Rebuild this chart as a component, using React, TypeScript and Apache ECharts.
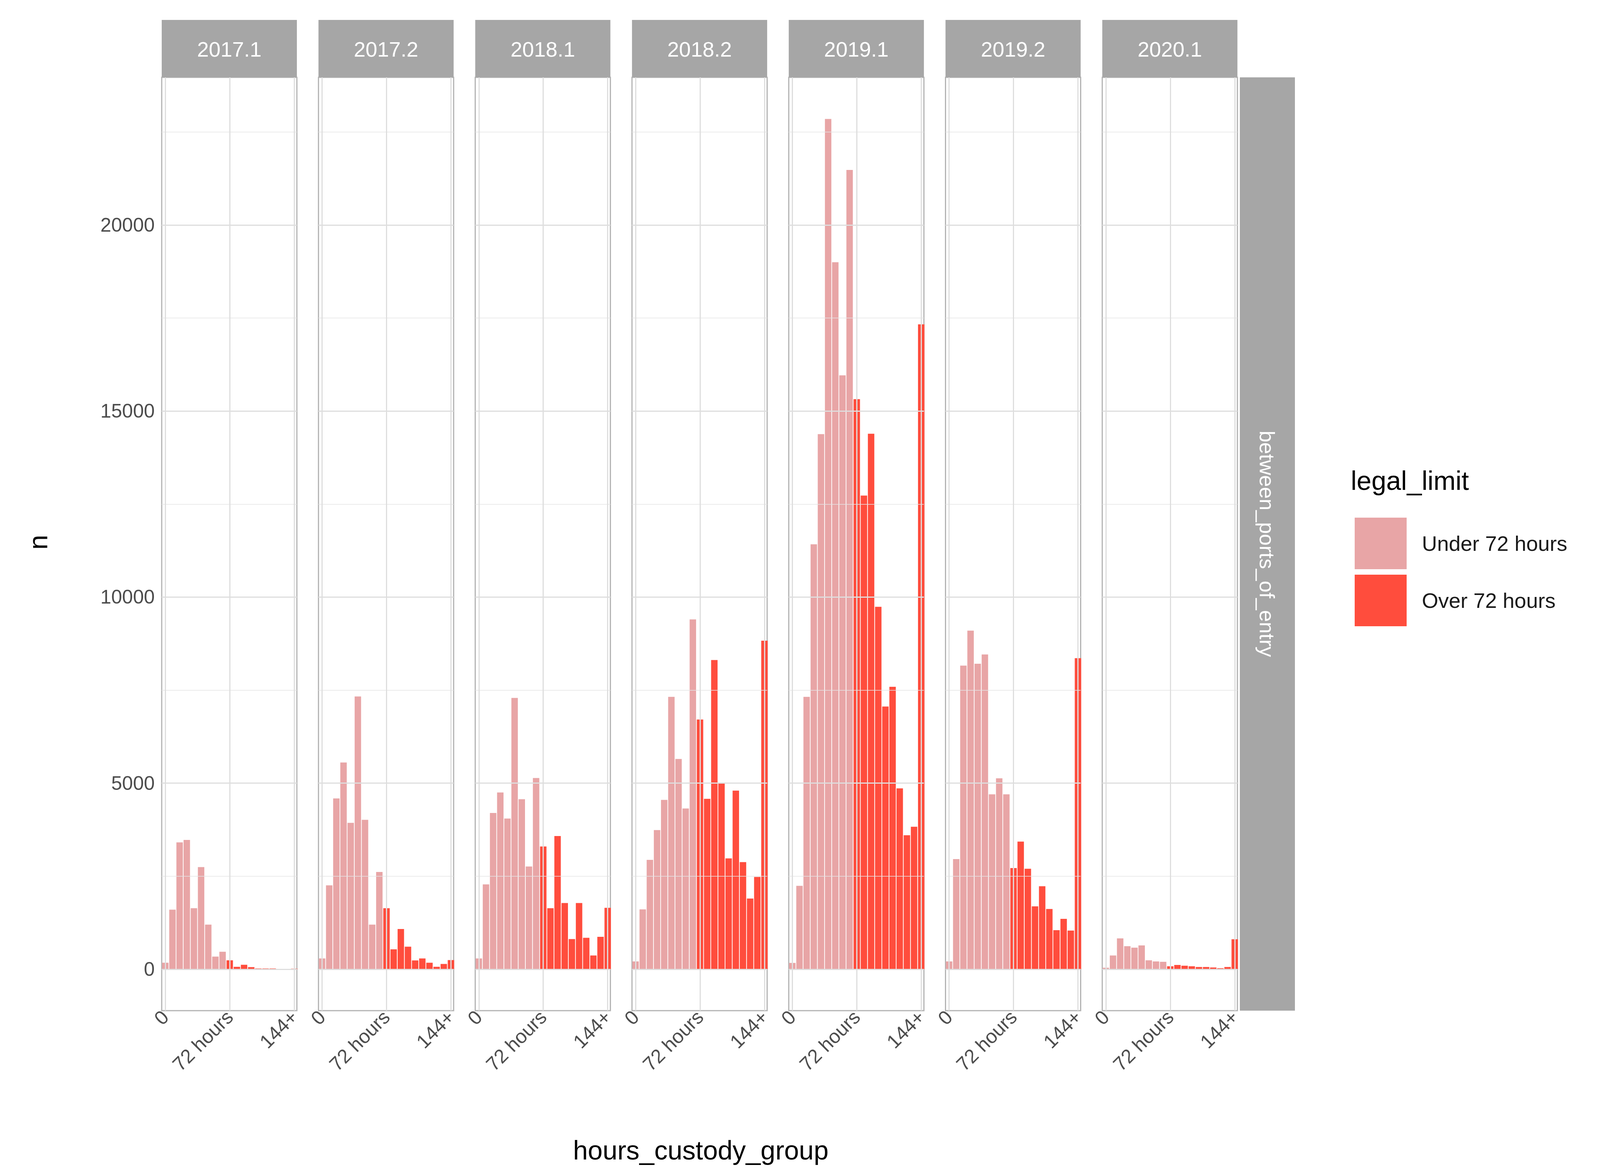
import React, { useEffect, useRef } from "react";
import * as echarts from "echarts";

const periods = ["2017.1", "2017.2", "2018.1", "2018.2", "2019.1", "2019.2", "2020.1"];
const underHours = [0, 8, 16, 24, 32, 40, 48, 56, 64];
const overHours = [72, 80, 88, 96, 104, 112, 120, 128, 136, 144];
const underValues = [
  [175, 1600, 3410, 3475, 1640, 2745, 1200, 340, 470],
  [290, 2255, 4590, 5555, 3935, 7330, 4015, 1200, 2615],
  [290, 2280, 4200, 4750, 4050, 7290, 4570, 2760, 5140],
  [210, 1610, 2940, 3740, 4550, 7320, 5650, 4320, 9400],
  [170, 2240, 7320, 11420, 14380, 22850, 19000, 15960, 21480],
  [210, 2960, 8160, 9100, 8210, 8460, 4700, 5130, 4700],
  [40, 370, 830, 620, 580, 640, 240, 210, 200],
];
const overValues = [
  [240, 65, 120, 57, 20, 20, 20, 10, 10, 15],
  [1640, 535, 1080, 605, 237, 290, 175, 66, 142, 246],
  [3300, 1640, 3580, 1780, 810, 1780, 845, 370, 870, 1650],
  [6710, 4580, 8310, 5010, 2980, 4800, 2880, 1900, 2480, 8830],
  [15320, 12730, 14390, 9740, 7060, 7590, 4860, 3600, 3830, 17330],
  [2720, 3430, 2700, 1690, 2230, 1620, 1050, 1355, 1040, 8360],
  [80, 115, 95, 80, 60, 60, 47, 27, 60, 805],
];
const yTicks = [0, 5000, 10000, 15000, 20000];
const yMinor = [2500, 7500, 12500, 17500, 22500];
const xTicks = [0, 72, 144];
const xTickLabels: Record<number, string> = { 0: "0", 72: "72 hours", 144: "144+" };
const facetRow = "between_ports_of_entry";

const UNDER = "#E8A5A6";
const OVER = "#FF4D3D";
const STRIP = "#A6A6A6";
const FONT = "Liberation Sans";

export default function App() {
  const ref = useRef<HTMLDivElement>(null);
  useEffect(() => {
    const chart = echarts.init(ref.current!, null, { renderer: "svg" });
    const left0 = 406, step = 401.3, pw = 346, top = 190, ph = 2389;
    const grids: any[] = [], xAxes: any[] = [], yAxes: any[] = [], series: any[] = [], graphics: any[] = [];
    periods.forEach((p, i) => {
      const left = left0 + i * step;
      grids.push({ left, top, width: pw, height: ph, show: true, borderColor: "#B3B3B3", borderWidth: 3, backgroundColor: "#fff", containLabel: false });
      xAxes.push({
        type: "value", gridIndex: i, min: -4, max: 147,
        splitLine: { show: false }, axisLine: { show: false },
        axisTick: { show: true, customValues: xTicks, length: 10, lineStyle: { color: "#B3B3B3", width: 3 } },
        axisLabel: { show: true, customValues: xTicks, rotate: 45, margin: 8, fontSize: 50, color: "#4D4D4D", fontFamily: FONT, formatter: (v: number) => xTickLabels[v] ?? "" },
      });
      yAxes.push({
        type: "value", gridIndex: i, min: -1113, max: 23968,
        splitLine: { show: false }, axisLine: { show: false },
        axisTick: { show: i === 0, customValues: yTicks, length: 10, lineStyle: { color: "#B3B3B3", width: 3 } },
        axisLabel: { show: i === 0, customValues: yTicks, margin: 18, fontSize: 50, color: "#4D4D4D", fontFamily: FONT, formatter: (v: number) => String(v) },
      });
      series.push({
        type: "scatter", xAxisIndex: i, yAxisIndex: i, data: [], silent: true, z: 1,
        markLine: {
          silent: true, symbol: "none", label: { show: false }, animation: false,
          data: [
            ...yMinor.map((v) => ({ yAxis: v, lineStyle: { color: "#E5E5E5", width: 1.5, type: "solid" } })),
            ...yTicks.map((v) => ({ yAxis: v, lineStyle: { color: "#DEDEDE", width: 3, type: "solid" } })),
            ...xTicks.map((v) => ({ xAxis: v, lineStyle: { color: "#DEDEDE", width: 3, type: "solid" } })),
          ],
        },
      });
      series.push({
        name: "Under 72 hours", type: "bar", xAxisIndex: i, yAxisIndex: i, z: 2, barWidth: 16.5, clip: true,
        itemStyle: { color: UNDER }, data: underHours.map((h, k) => [h, underValues[i][k]]),
      });
      series.push({
        name: "Over 72 hours", type: "bar", xAxisIndex: i, yAxisIndex: i, z: 2, barWidth: 16.5, clip: true, barGap: "-100%",
        itemStyle: { color: OVER }, data: overHours.map((h, k) => [h, overValues[i][k]]),
      });
      graphics.push({ type: "rect", shape: { x: left, y: 43, width: pw, height: 147 }, style: { fill: STRIP } });
      graphics.push({ type: "text", x: left + pw / 2, y: 118, style: { text: p, fill: "#fff", fontSize: 54, fontFamily: FONT, align: "center", verticalAlign: "middle" } });
    });
    graphics.push({ type: "rect", shape: { x: 3166, y: 190, width: 141, height: 2389 }, style: { fill: STRIP } });
    graphics.push({ type: "text", x: 3236, y: 1384, rotation: -Math.PI / 2, style: { text: facetRow, fill: "#fff", fontSize: 54, fontFamily: FONT, align: "center", verticalAlign: "middle" } });
    graphics.push({ type: "text", x: 89, y: 1380, rotation: Math.PI / 2, style: { text: "n", fill: "#000", fontSize: 68, fontFamily: FONT, align: "center", verticalAlign: "middle" } });
    graphics.push({ type: "text", x: 1786, y: 2936, style: { text: "hours_custody_group", fill: "#000", fontSize: 68, fontFamily: FONT, align: "center", verticalAlign: "middle" } });
    graphics.push({ type: "text", x: 3450, y: 1222, style: { text: "legal_limit", fill: "#000", fontSize: 68, fontFamily: FONT, align: "left", verticalAlign: "middle" } });

    chart.setOption({
      animation: false,
      backgroundColor: "#fff",
      grid: grids, xAxis: xAxes, yAxis: yAxes, series,
      legend: {
        data: ["Under 72 hours", "Over 72 hours"], orient: "vertical", left: 3455, top: 1312,
        itemWidth: 133, itemHeight: 132, itemGap: 14, icon: "rect", selectedMode: false,
        textStyle: { fontSize: 54, color: "#1A1A1A", fontFamily: FONT, padding: [0, 0, 0, 34] },
      },
      graphic: graphics,
    });
    return () => chart.dispose();
  }, []);
  return <div ref={ref} style={{ width: 4200, height: 3000 }} />;
}
